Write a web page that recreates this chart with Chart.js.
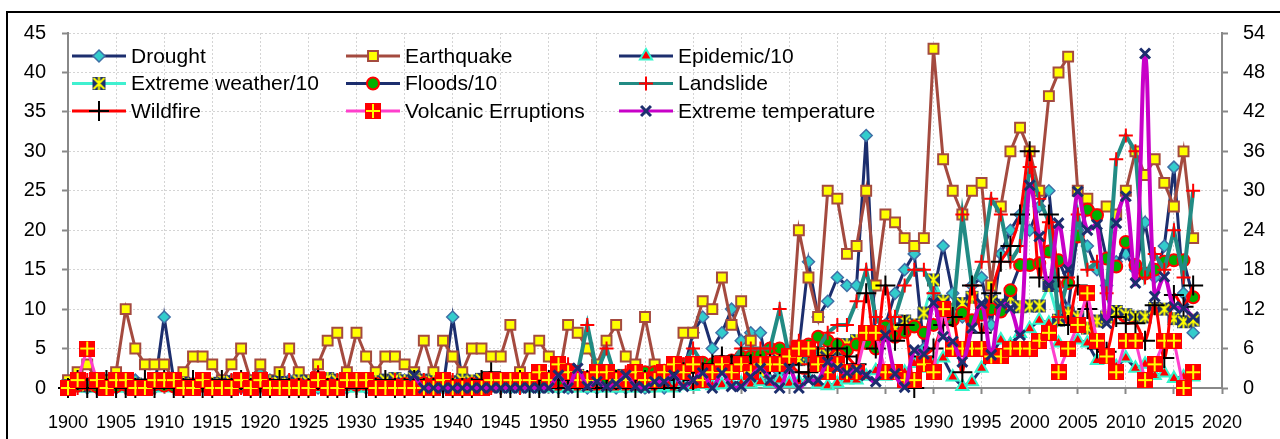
<!DOCTYPE html>
<html><head><meta charset="utf-8">
<script src="https://cdn.jsdelivr.net/npm/chart.js@4.4.1/dist/chart.umd.min.js"></script>
<style>html,body{margin:0;padding:0;background:#fff;}canvas{display:block;}</style>
</head><body>
<canvas id="c" width="1280" height="439"></canvas>
<script>
// ---- categories / ticks ----
const years = [1900,1901,1902,1903,1904,1905,1906,1907,1908,1909,
1910,1911,1912,1913,1914,1915,1916,1917,1918,1919,
1920,1921,1922,1923,1924,1925,1926,1927,1928,1929,
1930,1931,1932,1933,1934,1935,1936,1937,1938,1939,
1940,1941,1942,1943,1944,1945,1946,1947,1948,1949,
1950,1951,1952,1953,1954,1955,1956,1957,1958,1959,
1960,1961,1962,1963,1964,1965,1966,1967,1968,1969,
1970,1971,1972,1973,1974,1975,1976,1977,1978,1979,
1980,1981,1982,1983,1984,1985,1986,1987,1988,1989,
1990,1991,1992,1993,1994,1995,1996,1997,1998,1999,
2000,2001,2002,2003,2004,2005,2006,2007,2008,2009,
2010,2011,2012,2013,2014,2015,2016,2017];
const xTicks = [1900,1905,1910,1915,1920,1925,1930,1935,1940,1945,1950,1955,1960,1965,1970,1975,1980,1985,1990,1995,2000,2005,2010,2015,2020];
const leftTicks = [0,5,10,15,20,25,30,35,40,45];
const rightTicks = [0,6,12,18,24,30,36,42,48,54];

// ---- series ----
const drought = [0,1,0,0,1,0,0,1,0,0, 9,1,0,0,1,0,0,1,0,0, 2,1,0,1,0,0,0,1,0,0, 1,0,0,1,0,1,0,0,0,0,
 9,1,0,0,1,0,0,0,1,0, 1,0,0,1,0,0,1,0,0,1, 0,1,0,1,2,7,9,5,7,10, 6,7,7,1,2,3,5,16,9,11,
 14,13,13,32,5,8,12,15,17,5, 12,18,12,9,13,14,8,17,20,22, 20,23,25,13,10,20,18,15,13,16, 17,15,21,14,18,28,12,7];
const earthquake = [1,2,3,1,1,2,10,5,3,3, 3,1,2,4,4,3,1,3,5,1, 3,1,2,5,2,1,3,6,7,2, 7,4,2,4,4,3,2,6,2,6,
 4,2,5,5,4,4,8,2,5,6, 4,1,8,7,5,3,6,8,4,3, 9,3,1,2,7,7,11,10,14,8, 11,6,2,3,4,3,20,14,9,25,
 24,17,18,25,13,22,21,19,18,19, 43,29,25,22,25,26,13,23,30,33, 30,25,37,40,42,25,24,22,23,22, 25,30,27,29,26,23,30,19];
const epidemic10 = [0,0,0,0,0,0,0,0,0,0, 0.1,0,0,0,0,0,0,0,0.1,0, 0,0,0,0,0,0.1,0,0,0,0, 0,0,0,0,0,0,0,0,0,0,
 0,0,0,0,0,0,0,0,0,0, 0,0,0,0,0,0,0,0,0,0, 0,0,0.2,0,0.3,0.2,0.5,0.3,0.4,0.5, 0.6,0.5,0.8,0.6,1,0.6,0.8,1.2,0.5,0.3,
 0.6,1,1,1.5,2.2,1.5,1.8,2,3.1,2.5, 3.1,3.8,1.4,0.2,0.8,2.5,4.2,6.1,5.5,6.9, 7.5,8.6,8.2,5.7,4.6,6.1,5.7,3.5,3.8,2.7, 3.8,2.5,3,1.6,1.9,1.2,1.4,1.4];
const extremeWeather10 = [0.3,0.5,0.3,0.6,0.4,0.5,0.6,0.5,0.4,0.5, 0.6,0.8,0.6,0.5,0.7,0.6,0.5,0.8,0.6,0.7, 1,0.8,0.7,0.6,0.9,0.8,1,1.2,1,0.8, 1.1,0.9,0.8,1,1.2,0.9,1.3,1,0.8,1,
 0.8,1,0.9,1.1,1,0.8,1.2,1,1.1,1.3, 1.2,1.5,1.4,1.6,1.3,1.5,1.8,1.6,1.4,1.5, 1.8,2,1.7,2.2,2.4,2.6,2.3,2.8,2.5,3, 3.2,3,3.5,3.3,3.8,4,3.6,4.2,4.5,4.2,
 5,5.5,6,7,6.5,7.8,7.5,8.5,8,9.5, 13.7,11,10,10.7,11.5,10,11,10.5,11.5,10.3, 10.4,10.4,13,8.6,9.5,9,7.6,8.5,9,9.7, 9.3,9,9,10.1,10,8.8,8.4,8.6];
const floods10 = [0.2,0.3,0.5,0.2,0.3,0.2,0.4,0.3,0.2,0.5, 0.3,0.2,0.3,0.4,0.3,0.2,0.3,0.4,0.3,0.2, 0.3,0.4,0.3,0.2,0.4,0.3,0.5,0.4,0.3,0.5, 0.4,0.6,0.5,0.3,0.4,0.5,0.4,0.6,0.5,0.4,
 0.3,0.4,0.5,0.4,0.3,0.5,0.6,0.5,0.7,0.6, 0.8,1,1.2,1,1.3,1.5,1.2,1.4,1.6,1.5, 2,2,2.2,2.5,3,3,3.2,3,3.3,3.5, 4,4,4.2,5,5,4.5,5,5.5,6.5,6,
 5.5,4.8,5.5,5.7,5,7.8,6.5,7.1,7.8,7, 8,9.5,8.6,9.5,8.6,9.3,10,9.7,12.4,15.6, 15.6,15.8,17.3,16.2,13.3,19.2,22.6,21.9,16.4,15.4, 18.5,15.6,14.5,15,16,16.2,16.2,11.5];
const landslide = [0,0,1,0,0,1,0,0,1,0, 1,0,0,0,1,0,0,1,0,0, 1,0,0,1,0,0,2,0,1,0, 0,1,0,0,1,0,0,1,0,0,
 1,0,0,1,0,0,1,0,1,1, 1,2,3,2,8,2,5,1,2,1, 1,2,1,2,3,5,3,2,4,3, 5,5,5,5,10,4,6,3,5,7,
 8,8,11,15,9,7,9,13,15,15, 12,8,9,22,13,16,24,22,16,18, 28,24,21,9,14,22,15,16,12,29, 32,30,14,17,15,20,14,25];
const wildfire = [0,1,0,0,1,0,0,0,1,0, 1,0,0,1,0,0,1,0,1,0, 0,0,1,0,0,0,1,0,0,0, 0,0,0,1,0,0,1,0,0,0,
 0,0,0,1,2,0,0,1,0,0, 1,0,1,0,1,0,0,1,0,0, 1,0,1,0,2,1,2,3,4,3, 4,3,3,3,3,3,2,2,4,4,
 5,4,3,12,5,13,6,8,0,4, 5,8,9,2,13,7,12,16,18,22, 30,14,22,14,8,13,10,5,4.6,9, 8.2,8.2,6,10.5,3.8,11.8,10.3,13];
const volcanic = [0,1,5,1,0,1,1,0,0,1, 1,1,0,0,1,0,0,0,1,0, 1,0,0,0,0,0,1,0,0,1, 1,1,0,0,0,0,0,0,0,1,
 0,0,0,0,1,1,1,1,1,2, 1,3,2,1,1,2,2,1,1,2, 1,1,2,3,2,3,1,2,3,2, 3,2,3,3,3,4,5,5,3,2,
 3,2,2,7,7,2,2,1,1,3, 2,10,5,5,5,5,4,4,5,5, 5,6,7,2,5,8,12,6,4,2, 6,6,1,3,6,6,0,2];
const extremeTemp = [null,null,null,null,null,null,null,null,null,null, null,null,null,null,null,null,null,null,null,null,
 null,null,null,null,null,null,null,null,null,null, null,null,null,null,null,null,1.6,0,0,0,
 0,0,0,0,0,0,0,0,0,0, 0,1.6,0,2.5,0.2,0.8,0.2,0.5,1.6,0.2, 0,0.8,0.8,1.6,0.2,1,1.9,0,1.9,0.2, 0.2,1.4,2.5,1,0,2.5,0,1,1,3.3,
 2.5,1.9,2.3,1.6,0.8,6.7,1.8,0.1,4.8,4.3, 10.8,6.5,5.9,3.3,7.6,10.7,4.2,10.7,10.1,6.7, 25.7,19.2,13,20.9,15,24.9,20,20.7,8.2,20.9, 24.3,13.3,42.4,11.6,14.1,10.3,10.1,9];

// ---- custom marker images ----
function makeCanvas(w, h, draw) { const c = document.createElement('canvas'); c.width = w; c.height = h; draw(c.getContext('2d')); return c; }
const volcImg = makeCanvas(16, 16, g => {
  g.fillStyle = '#FF0000'; g.fillRect(0, 0, 16, 16);
  g.strokeStyle = '#FFFF00'; g.lineWidth = 2; g.beginPath();
  g.moveTo(8, 1); g.lineTo(8, 15); g.moveTo(1, 8); g.lineTo(15, 8); g.stroke();
});
const starImg = makeCanvas(15, 15, g => {
  g.fillStyle = '#1C2E6E'; g.fillRect(1, 1, 13, 13);
  g.strokeStyle = '#FFFF00'; g.lineWidth = 2; g.beginPath();
  g.moveTo(2, 2); g.lineTo(13, 13); g.moveTo(13, 2); g.lineTo(2, 13); g.moveTo(7.5, 1); g.lineTo(7.5, 14); g.stroke();
});

const NAVY = '#1C2E6E';
const toPts = arr => years.map((y, i) => ({x: y, y: arr[i]}));
function ds(label, arr, o) {
  return Object.assign({label, data: toPts(arr), yAxisID: 'y', clip: false, spanGaps: false, tension: 0,
    pointHoverRadius: 0, borderWidth: 3}, o);
}
const datasets = [
  ds('Drought', drought, {borderColor: NAVY, pointStyle: 'rectRot', pointRadius: 6, pointBackgroundColor: '#33CCCC', pointBorderColor: '#3F6FA6', pointBorderWidth: 1.5}),
  ds('Earthquake', earthquake, {borderColor: '#A44A3F', pointStyle: 'rect', pointRadius: 7, pointBackgroundColor: '#FFFF00', pointBorderColor: '#A44A3F', pointBorderWidth: 2}),
  ds('Epidemic/10', epidemic10, {borderColor: NAVY, pointStyle: 'triangle', pointRadius: 7, pointBackgroundColor: '#FF0000', pointBorderColor: '#33F5CC', pointBorderWidth: 2}),
  ds('Extreme weather/10', extremeWeather10, {borderColor: '#40F0D0', pointStyle: starImg, pointRadius: 7, pointBackgroundColor: NAVY, pointBorderColor: '#FFFF00', pointBorderWidth: 2}),
  ds('Floods/10', floods10, {borderColor: NAVY, pointStyle: 'circle', pointRadius: 6, pointBackgroundColor: '#00B000', pointBorderColor: '#FF0000', pointBorderWidth: 2}),
  ds('Landslide', landslide, {borderColor: '#228B84', borderWidth: 4, pointStyle: 'cross', pointRadius: 7, pointBackgroundColor: '#FF0000', pointBorderColor: '#FF0000', pointBorderWidth: 2}),
  ds('Wildfire', wildfire, {borderColor: '#FF0000', tension: 0.35, pointStyle: 'cross', pointRadius: 10, pointBackgroundColor: '#000', pointBorderColor: '#000', pointBorderWidth: 2}),
  ds('Volcanic Erruptions', volcanic, {borderColor: '#FF3FCC', pointStyle: volcImg, pointRadius: 8, pointBackgroundColor: '#FF0000', pointBorderColor: '#FFFF00', pointBorderWidth: 2}),
  ds('Extreme temperature', extremeTemp, {borderColor: '#C800C8', borderWidth: 4, tension: 0.35, pointStyle: 'crossRot', pointRadius: 7, pointBackgroundColor: NAVY, pointBorderColor: NAVY, pointBorderWidth: 3})
];
datasets.forEach((d, i) => { d.order = datasets.length - i; });

function drawMarker(g, d, x, y) {
  const st = d.pointStyle, r = d.pointRadius;
  g.save();
  if (typeof st !== 'string') { g.drawImage(st, x - st.width / 2, y - st.height / 2); g.restore(); return; }
  g.lineWidth = d.pointBorderWidth; g.strokeStyle = d.pointBorderColor; g.fillStyle = d.pointBackgroundColor;
  g.beginPath();
  if (st === 'rectRot') { g.moveTo(x, y - r); g.lineTo(x + r, y); g.lineTo(x, y + r); g.lineTo(x - r, y); g.closePath(); g.fill(); g.stroke(); }
  else if (st === 'rect') { const s = r * Math.SQRT1_2; g.rect(x - s, y - s, 2 * s, 2 * s); g.fill(); g.stroke(); }
  else if (st === 'triangle') { g.moveTo(x, y - r); g.lineTo(x + 0.866 * r, y + 0.5 * r); g.lineTo(x - 0.866 * r, y + 0.5 * r); g.closePath(); g.fill(); g.stroke(); }
  else if (st === 'circle') { g.arc(x, y, r, 0, Math.PI * 2); g.fill(); g.stroke(); }
  else if (st === 'cross') { g.moveTo(x - r, y); g.lineTo(x + r, y); g.moveTo(x, y - r); g.lineTo(x, y + r); g.stroke(); }
  else if (st === 'crossRot') { const s = r * Math.SQRT1_2; g.moveTo(x - s, y - s); g.lineTo(x + s, y + s); g.moveTo(x + s, y - s); g.lineTo(x - s, y + s); g.stroke(); }
  g.restore();
}

const framePlugin = {
  id: 'frame',
  beforeDraw(chart) {
    const g = chart.ctx; g.save();
    g.fillStyle = '#fff'; g.fillRect(0, 0, chart.width, chart.height);
    g.strokeStyle = '#000'; g.lineWidth = 2; g.strokeRect(7, 12, 1320, 500);
    g.restore();
  }
};
const legendPlugin = {
  id: 'gridLegend',
  afterDraw(chart) {
    const g = chart.ctx;
    const colX = [72, 346, 619];
    const rowY = [56, 83.5, 111];
    chart.data.datasets.forEach((d, i) => {
      const x0 = colX[i % 3], y = rowY[Math.floor(i / 3)];
      g.save();
      g.strokeStyle = d.borderColor; g.lineWidth = 3;
      g.beginPath(); g.moveTo(x0, y); g.lineTo(x0 + 54, y); g.stroke();
      drawMarker(g, d, x0 + 27, y);
      g.fillStyle = '#000'; g.font = '21px "Liberation Sans", Arial, sans-serif';
      g.textBaseline = 'middle'; g.textAlign = 'left';
      g.fillText(d.label, x0 + 59, y + 1);
      g.restore();
    });
  }
};

const FONT = '"Liberation Sans", Arial, sans-serif';
new Chart(document.getElementById('c'), {
  type: 'line',
  data: {datasets},
  plugins: [framePlugin, legendPlugin],
  options: {
    responsive: false, animation: false, events: [],
    layout: {padding: {top: 33, left: 0, right: 0, bottom: 0}},
    plugins: {legend: {display: false}, tooltip: {enabled: false}},
    scales: {
      x: {
        type: 'linear', min: 1900, max: 2020,
        afterBuildTicks: s => { s.ticks = xTicks.map(v => ({value: v})); },
        afterFit: s => { s.height = 51; },
        ticks: {color: '#000', font: {family: FONT, size: 18}, padding: 18, maxRotation: 0, autoSkip: false, callback: v => String(v)},
        grid: {color: '#D4D4D4', lineWidth: 1, tickLength: 6, tickColor: '#888', tickWidth: 2},
        border: {display: true, color: '#888', width: 2, dash: [2, 2]}
      },
      y: {
        type: 'linear', position: 'left', min: 0, max: 45,
        afterBuildTicks: s => { s.ticks = leftTicks.map(v => ({value: v})); },
        afterFit: s => { s.width = 68; },
        ticks: {color: '#000', font: {family: FONT, size: 20}, padding: 16},
        grid: {color: '#D4D4D4', lineWidth: 1, tickLength: 6, tickColor: '#888', tickWidth: 2},
        border: {display: true, color: '#888', width: 2, dash: [2, 2]}
      },
      y2: {
        type: 'linear', position: 'right', min: 0, max: 54,
        afterBuildTicks: s => { s.ticks = rightTicks.map(v => ({value: v})); },
        afterFit: s => { s.width = 58; },
        ticks: {color: '#000', font: {family: FONT, size: 20}, padding: 15},
        grid: {drawOnChartArea: false, tickLength: 6, tickColor: '#888', tickWidth: 2},
        border: {display: true, color: '#888', width: 2}
      }
    }
  }
});
</script>
</body></html>
